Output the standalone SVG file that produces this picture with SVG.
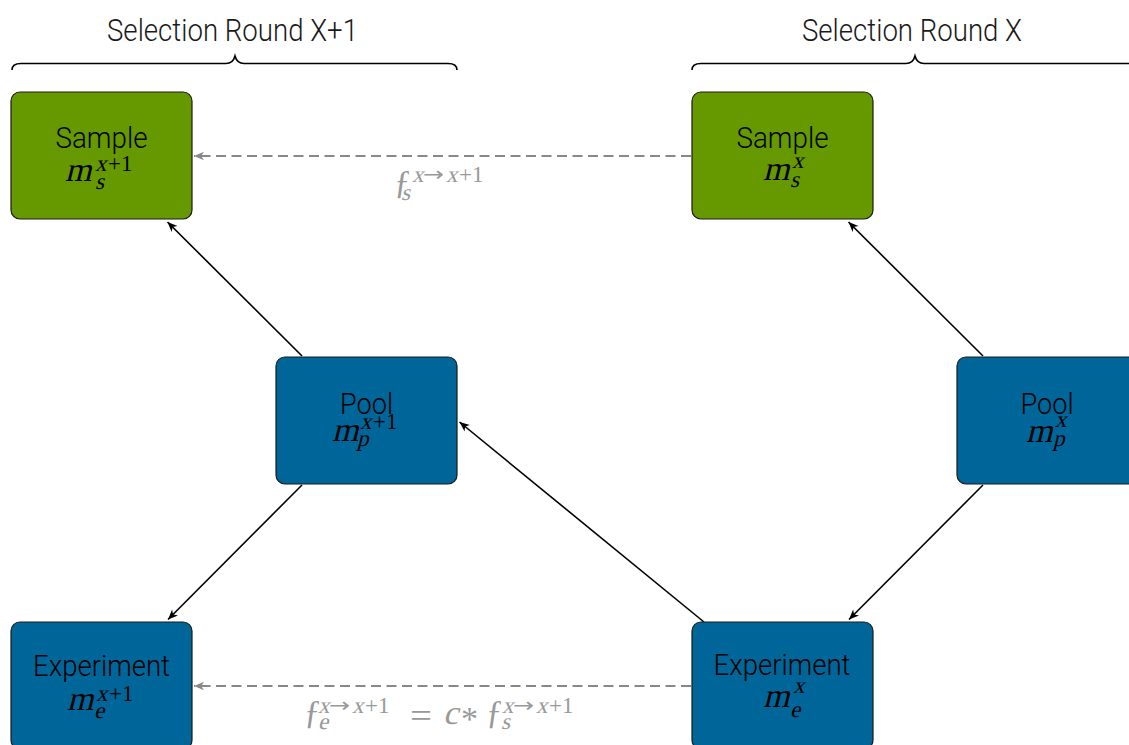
<svg xmlns="http://www.w3.org/2000/svg" width="1129" height="745" viewBox="0 0 1129 745">
<defs>
<style>
.box{stroke:#1a1a1a;stroke-width:1.2}
.green{fill:#669900}
.blue{fill:#006699}
.lbl{font-family:Roboto,"Liberation Sans",sans-serif;font-weight:300;font-size:29px;fill:#000;text-anchor:middle}
.title{font-family:Roboto,"Liberation Sans",sans-serif;font-weight:300;font-size:32px;fill:#1a1a1a;text-anchor:middle}
.M{font-family:"Liberation Serif","Times New Roman",serif;font-style:normal;font-weight:400;font-size:34px;fill:#000}
.S{font-family:"Liberation Serif","Times New Roman",serif;font-style:normal;font-weight:400;font-size:23px;fill:#000}
.A{font-family:"DejaVu Sans",sans-serif;font-weight:400;font-size:20px}
.g{fill:#999999}
.edge{stroke:#000;stroke-width:1.6;fill:none;marker-end:url(#ah)}
.dash{stroke:#888888;stroke-width:2;fill:none;stroke-dasharray:10 5.5;marker-end:url(#ahg)}
.brace{stroke:#000;stroke-width:1.6;fill:none}
</style>
<marker id="ah" markerUnits="userSpaceOnUse" markerWidth="14" markerHeight="12" viewBox="-11 -6 12 12" refX="0" refY="0" orient="auto">
<path d="M0,0 L-10,-4.2 L-7.2,0 L-10,4.2 Z" fill="#000"/>
</marker>
<marker id="ahg" markerUnits="userSpaceOnUse" markerWidth="14" markerHeight="12" viewBox="-11 -6 12 12" refX="0" refY="0" orient="auto">
<path d="M0,0 L-10,-4.2 L-7.2,0 L-10,4.2 Z" fill="#888888"/>
</marker>
</defs>
<rect width="1129" height="745" fill="#ffffff"/>

<g id="brace-left">
<path class="brace" d="M12,70 Q12,63.5 21,63.5 L226,63.5 Q233,63.5 235,56 Q237,63.5 244,63.5 L448,63.5 Q457,63.5 457,70"/>
<text class="title" x="232.5" y="41" textLength="251" lengthAdjust="spacingAndGlyphs">Selection Round X+1</text>
</g>
<g id="brace-right">
<path class="brace" d="M692,70 Q692,63.5 701,63.5 L906,63.5 Q913,63.5 915,56 Q917,63.5 924,63.5 L1128,63.5 Q1137,63.5 1137,70"/>
<text class="title" x="912" y="41" textLength="220" lengthAdjust="spacingAndGlyphs">Selection Round X</text>
</g>

<g id="connectors">
<line class="edge" x1="302" y1="356" x2="167.5" y2="222"/>
<line class="edge" x1="983" y1="356" x2="848.5" y2="222"/>
<line class="edge" x1="302" y1="485" x2="168" y2="619.5"/>
<line class="edge" x1="983" y1="485" x2="849" y2="619.5"/>
<line class="edge" x1="704" y1="622" x2="459.5" y2="422"/>
<line class="dash" x1="691" y1="156" x2="194" y2="156"/>
<line class="dash" x1="691" y1="686" x2="194" y2="686"/>
<g id="label-fs">
<text class="M g" x="394" y="193">ƒ</text>
<text class="S g" transform="translate(412 182) skewX(-14)">x</text>
<text class="A g" x="423" y="181" textLength="21" lengthAdjust="spacingAndGlyphs">→</text>
<text class="S g" transform="translate(446 182) skewX(-14)">x</text>
<text class="S g" x="459" y="182">+1</text>
<text class="S g" transform="translate(401 200) skewX(-14)">s</text>
</g>
<g id="label-fe">
<text class="M g" x="304" y="723">ƒ</text>
<text class="S g" transform="translate(318 713) skewX(-14)">x</text>
<text class="A g" x="329" y="712" textLength="21" lengthAdjust="spacingAndGlyphs">→</text>
<text class="S g" transform="translate(352 713) skewX(-14)">x</text>
<text class="S g" x="365" y="713">+1</text>
<text class="S g" transform="translate(318 729) skewX(-14)">e</text>
<text class="M g" x="410" y="727" textLength="22" lengthAdjust="spacingAndGlyphs">=</text>
<text class="M g" transform="translate(443 724) skewX(-14)">c</text>
<text class="M g" x="461" y="730" font-size="28">*</text>
<text class="M g" x="486" y="723">ƒ</text>
<text class="S g" transform="translate(502 713) skewX(-14)">x</text>
<text class="A g" x="513" y="712" textLength="21" lengthAdjust="spacingAndGlyphs">→</text>
<text class="S g" transform="translate(536 713) skewX(-14)">x</text>
<text class="S g" x="549" y="713">+1</text>
<text class="S g" transform="translate(501 729) skewX(-14)">s</text>
</g>
</g>

<g id="sample-x1">
<rect class="box green" x="11" y="92" width="181" height="127" rx="9"/>
<text class="lbl" x="101.5" y="148" textLength="92" lengthAdjust="spacingAndGlyphs">Sample</text>
<text class="M" transform="translate(65 181) skewX(-14)">m</text>
<text class="S" transform="translate(95 171) skewX(-14)">x</text>
<text class="S" x="108" y="171">+1</text>
<text class="S" transform="translate(95 189) skewX(-14)">s</text>
</g>

<g id="sample-x">
<rect class="box green" x="692" y="92" width="181" height="127" rx="9"/>
<text class="lbl" x="782.5" y="148" textLength="92" lengthAdjust="spacingAndGlyphs">Sample</text>
<text class="M" transform="translate(763 180) skewX(-14)">m</text>
<text class="S" transform="translate(792 168) skewX(-14)">x</text>
<text class="S" transform="translate(790 187) skewX(-14)">s</text>
</g>

<g id="pool-x1">
<rect class="box blue" x="276" y="357" width="181" height="127" rx="9"/>
<text class="lbl" x="366.5" y="414" textLength="53" lengthAdjust="spacingAndGlyphs">Pool</text>
<text class="M" transform="translate(332 441) skewX(-14)">m</text>
<text class="S" transform="translate(360 429) skewX(-14)">x</text>
<text class="S" x="373" y="429">+1</text>
<text class="S" transform="translate(357 446) skewX(-14)">p</text>
</g>

<g id="pool-x">
<rect class="box blue" x="957" y="357" width="181" height="127" rx="9"/>
<text class="lbl" x="1047" y="414" textLength="53" lengthAdjust="spacingAndGlyphs">Pool</text>
<text class="M" transform="translate(1026 442) skewX(-14)">m</text>
<text class="S" transform="translate(1055 427) skewX(-14)">x</text>
<text class="S" transform="translate(1053 446) skewX(-14)">p</text>
</g>

<g id="experiment-x1">
<rect class="box blue" x="11" y="622" width="181" height="127" rx="9"/>
<text class="lbl" x="101.5" y="676" textLength="137" lengthAdjust="spacingAndGlyphs">Experiment</text>
<text class="M" transform="translate(67 710) skewX(-14)">m</text>
<text class="S" transform="translate(96 701) skewX(-14)">x</text>
<text class="S" x="109" y="701">+1</text>
<text class="S" transform="translate(94 718) skewX(-14)">e</text>
</g>

<g id="experiment-x">
<rect class="box blue" x="692" y="622" width="181" height="127" rx="9"/>
<text class="lbl" x="782" y="675" textLength="137" lengthAdjust="spacingAndGlyphs">Experiment</text>
<text class="M" transform="translate(763 707) skewX(-14)">m</text>
<text class="S" transform="translate(793 693) skewX(-14)">x</text>
<text class="S" transform="translate(790 717) skewX(-14)">e</text>
</g>
</svg>
